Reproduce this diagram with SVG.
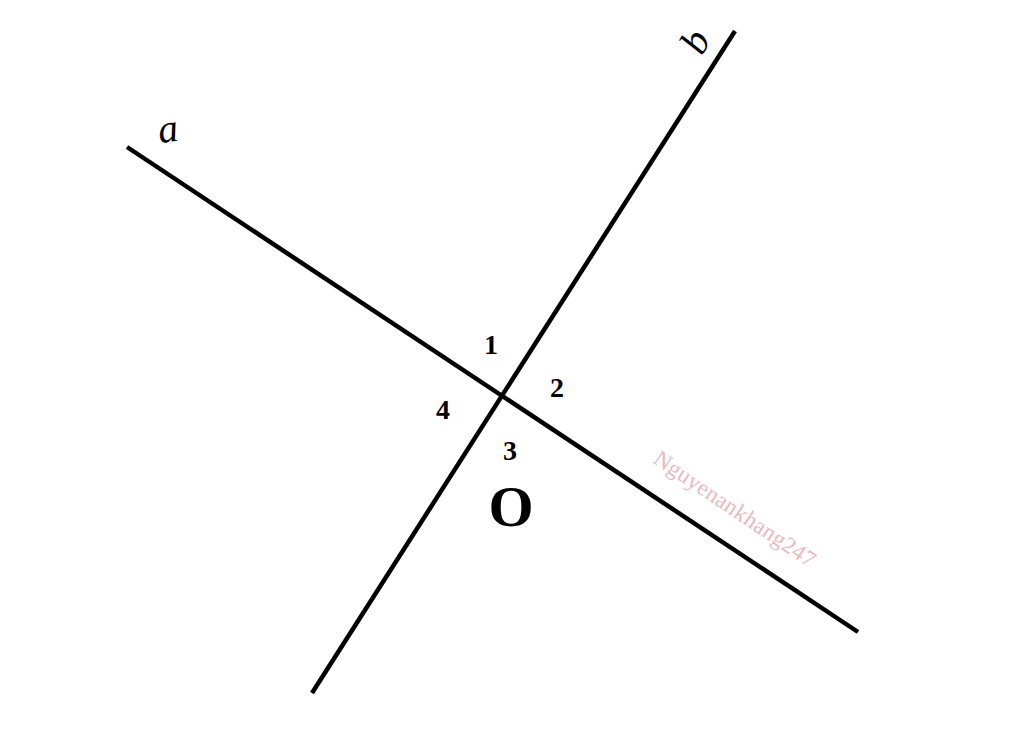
<svg xmlns="http://www.w3.org/2000/svg" width="1024" height="733" viewBox="0 0 1024 733">
<style>
.ln{stroke:#000;stroke-width:4.5;fill:none;stroke-linecap:butt}
.num{font-family:"Liberation Serif",serif;font-weight:bold;font-size:28px;fill:#000;text-anchor:middle}
.lbl{font-family:"Liberation Serif",serif;font-style:italic;font-size:40px;fill:#000;text-anchor:middle}
</style>
<rect width="1024" height="733" fill="#fff"/>
<g id="connectors">
<line class="ln" x1="127" y1="147" x2="858" y2="632"/>
<line class="ln" x1="735" y1="31" x2="312" y2="693"/>
</g>
<g id="label-a"><text class="lbl" x="168" y="142" transform="rotate(-8 168 130)">a</text></g>
<g id="label-b"><text class="lbl" x="696" y="54" transform="rotate(-62 696 42)">b</text></g>
<g id="angle-1"><text class="num" x="491" y="354">1</text></g>
<g id="angle-2"><text class="num" x="557" y="397">2</text></g>
<g id="angle-3"><text class="num" x="510" y="460">3</text></g>
<g id="angle-4"><text class="num" x="443" y="419">4</text></g>
<g id="point-O"><text x="511" y="526" font-family="Liberation Serif, serif" font-weight="bold" font-size="58" text-anchor="middle">O</text></g>
<g id="watermark"><text x="652" y="462" transform="rotate(34 652 462)" font-family="Liberation Serif, serif" font-size="23" letter-spacing="0.3" fill="#e9b9bd">Nguyenankhang247</text></g>
</svg>
